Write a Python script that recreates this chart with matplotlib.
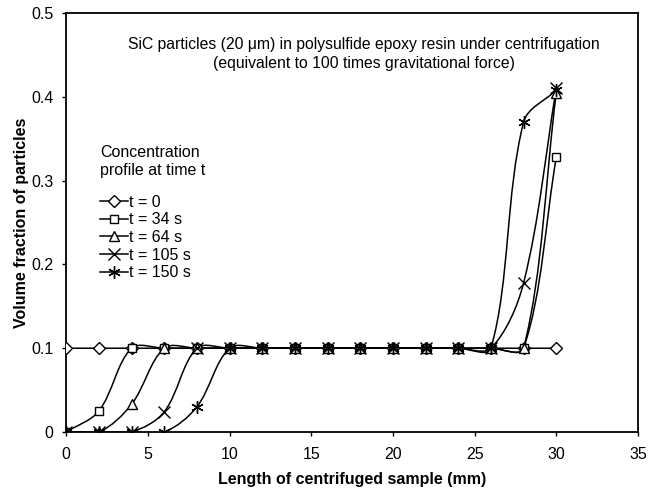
import numpy as np
import matplotlib
matplotlib.use('Agg')
import matplotlib.pyplot as plt
from matplotlib.path import Path
from matplotlib.patches import PathPatch
from matplotlib.lines import Line2D

plt.rcParams['font.family'] = ['Liberation Sans', 'DejaVu Sans']

# sample length positions (mm)
length_mm = [0, 2, 4, 6, 8, 10, 12, 14, 16, 18, 20, 22, 24, 26, 28, 30]

# volume fraction of particles for each time
frac_t0 = [0.1] * 16
frac_t34 = [0.0, 0.025, 0.1, 0.1, 0.1, 0.1, 0.1, 0.1, 0.1, 0.1, 0.1, 0.1, 0.1, 0.1, 0.1, 0.328]
frac_t64 = [0.0, 0.0, 0.033, 0.1, 0.1, 0.1, 0.1, 0.1, 0.1, 0.1, 0.1, 0.1, 0.1, 0.1, 0.1, 0.405]
frac_t105 = [0.0, 0.0, 0.0, 0.024, 0.1, 0.1, 0.1, 0.1, 0.1, 0.1, 0.1, 0.1, 0.1, 0.1, 0.178, 0.41]
frac_t150 = [0.0, 0.0, 0.0, 0.0, 0.03, 0.1, 0.1, 0.1, 0.1, 0.1, 0.1, 0.1, 0.1, 0.1, 0.37, 0.408]

labels = ['t = 0', 't = 34 s', 't = 64 s', 't = 105 s', 't = 150 s']
series = [frac_t0, frac_t34, frac_t64, frac_t105, frac_t150]
markers = ['D', 's', '^', 'x', (6, 2, 0)]
msizes = [6, 6, 7.5, 9, 9]


def smooth_path(ax, xs, ys):
    '''Excel-like smoothed line: Bezier segments, tangents scaled by screen distances.'''
    pts = ax.transData.transform(np.column_stack([xs, ys]).astype(float))
    padded = np.vstack([pts[0], pts, pts[-1]])
    verts = [pts[0]]
    codes = [Path.MOVETO]
    for i in range(len(pts) - 1):
        p0, p1, p2, p3 = padded[i], padded[i + 1], padded[i + 2], padded[i + 3]
        d01 = np.hypot(*(p1 - p0))
        d12 = np.hypot(*(p2 - p1))
        d23 = np.hypot(*(p3 - p2))
        c1 = p1 + (p2 - p0) * (d12 / (d01 + d12)) / 3 if d01 + d12 > 0 else p1
        c2 = p2 - (p3 - p1) * (d12 / (d12 + d23)) / 3 if d12 + d23 > 0 else p2
        verts += [c1, c2, p2]
        codes += [Path.CURVE4] * 3
    verts = ax.transData.inverted().transform(np.array(verts))
    return Path(verts, codes)


fig = plt.figure(figsize=(6.49, 4.94), dpi=100)
ax = fig.add_axes([0.102, 0.1255, 0.881, 0.848])
ax.set_xlim(0, 35)
ax.set_ylim(0, 0.5)

handles = []
for ys, lab, mk, ms in zip(series, labels, markers, msizes):
    ax.add_patch(PathPatch(smooth_path(ax, length_mm, ys), fill=False,
                           edgecolor='black', lw=1.1, zorder=2))
    filled = mk in ('D', 's', '^')
    ax.plot(length_mm, ys, linestyle='none', marker=mk, markersize=ms,
            markerfacecolor='white' if filled else 'black',
            markeredgecolor='black', markeredgewidth=1.0, zorder=3)
    handles.append(Line2D([], [], color='black', lw=1.1, marker=mk, markersize=ms,
                          markerfacecolor='white' if filled else 'black',
                          markeredgecolor='black', markeredgewidth=1.0))

ax.set_xticks(range(0, 36, 5))
ax.set_yticks([0, 0.1, 0.2, 0.3, 0.4, 0.5])
ax.set_yticklabels(['0', '0.1', '0.2', '0.3', '0.4', '0.5'])
ax.tick_params(direction='out', length=3, width=1, labelsize=11.5)
ax.tick_params(axis='x', pad=8)
ax.tick_params(axis='y', pad=6)
for s in ax.spines.values():
    s.set_linewidth(1.3)

ax.set_xlabel('Length of centrifuged sample (mm)', fontsize=11.5, fontweight='bold', labelpad=7)
ax.set_ylabel('Volume fraction of particles', fontsize=11.5, fontweight='bold', labelpad=2)

ax.text(0.521, 0.902,
        'SiC particles (20 \u03bcm) in polysulfide epoxy resin under centrifugation\n'
        '(equivalent to 100 times gravitational force)',
        transform=ax.transAxes, ha='center', va='center', fontsize=11.3,
        multialignment='center', linespacing=1.3)

leg = ax.legend(handles, labels, title='Concentration\nprofile at time t',
                loc='upper left', bbox_to_anchor=(0.045, 0.703), frameon=False,
                fontsize=11.5, title_fontsize=11.5, handlelength=1.75,
                handletextpad=0.1, labelspacing=0.17, borderpad=0,
                alignment='left')
leg._legend_box.sep = 12

fig.savefig('out.png', dpi=100)
